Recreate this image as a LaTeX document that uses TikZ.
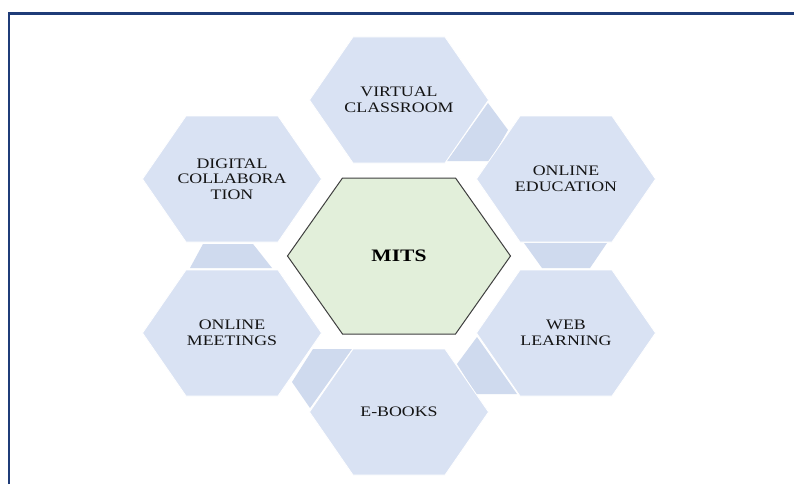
\documentclass[tikz,border=0pt]{standalone}
\usepackage{fontspec}
\newfontfamily\hexfont{Liberation Serif}[FakeStretch=1.23]
\definecolor{hexblue}{HTML}{D9E2F3}
\definecolor{pieceblue}{HTML}{CFDAEE}
\definecolor{centergreen}{HTML}{E2EFDA}
\definecolor{centerline}{HTML}{3F3F3F}
\definecolor{framenavy}{HTML}{1F3C78}
\definecolor{txt}{HTML}{141414}
\newcommand\hexagonpath[5]{(#1-#3,#2) -- (#1-#4,#2-#5) -- (#1+#4,#2-#5) -- (#1+#3,#2) -- (#1+#4,#2+#5) -- (#1-#4,#2+#5) -- cycle}
\tikzset{
  hexfill/.style={fill=hexblue, draw=white, line width=0.8pt},
  piecefill/.style={fill=pieceblue},
  centerhex/.style={fill=centergreen, draw=centerline, line width=1pt, line join=miter},
  hexlabel/.style={font=\hexfont\fontsize{14.5}{15.5}\selectfont, text=txt, align=center, inner sep=0pt},
  centerlabel/.style={font=\hexfont\bfseries\fontsize{17.5}{19}\selectfont, text=black, align=center, inner sep=0pt},
  frameline/.style={draw=framenavy, line width=2.2pt}
}
\begin{document}
\begin{tikzpicture}[x=1pt,y=-1pt]
\useasboundingbox (0,0) rectangle (794,484);
\fill[white] (0,0) rectangle (794,484);
% frame (only left and top edges visible)
\draw[frameline] (8.8,484) -- (8.8,13.5) -- (794,13.5);
% small joining pieces
\fill[piecefill] (488,103) -- (508,130) -- (490,161) -- (447,161) -- cycle;
\fill[piecefill] (203,244) -- (253,244) -- (272,268) -- (190,268) -- cycle;
\fill[piecefill] (524,243) -- (607,243) -- (590,268) -- (542,268) -- cycle;
\fill[piecefill] (477,337) -- (457,364) -- (476,394) -- (517,394) -- cycle;
\fill[piecefill] (313,349) -- (352,349) -- (310,408) -- (292,382) -- cycle;
% outer hexagons
\path[hexfill] \hexagonpath{399}{100}{89.5}{46}{63};
\path[hexfill] \hexagonpath{232}{179}{89.5}{46}{63};
\path[hexfill] \hexagonpath{566}{179}{89.5}{46}{63};
\path[hexfill] \hexagonpath{232}{333}{89.5}{46}{63};
\path[hexfill] \hexagonpath{566}{333}{89.5}{46}{63};
\path[hexfill] \hexagonpath{399}{412}{89.5}{46}{63};
% center hexagon
\path[centerhex] \hexagonpath{399}{256}{111.5}{56.5}{78};
% labels
\node[hexlabel] (vc) at (399,100) {VIRTUAL\\CLASSROOM};
\node[hexlabel] (dc) at (232,179) {DIGITAL\\COLLABORA\\TION};
\node[hexlabel] (oe) at (566,179) {ONLINE\\EDUCATION};
\node[hexlabel] (om) at (232,333) {ONLINE\\MEETINGS};
\node[hexlabel] (wl) at (566,333) {WEB\\LEARNING};
\node[hexlabel] (eb) at (399,412) {E-BOOKS};
\node[centerlabel] (mits) at (399,256) {MITS};
\end{tikzpicture}
\end{document}
